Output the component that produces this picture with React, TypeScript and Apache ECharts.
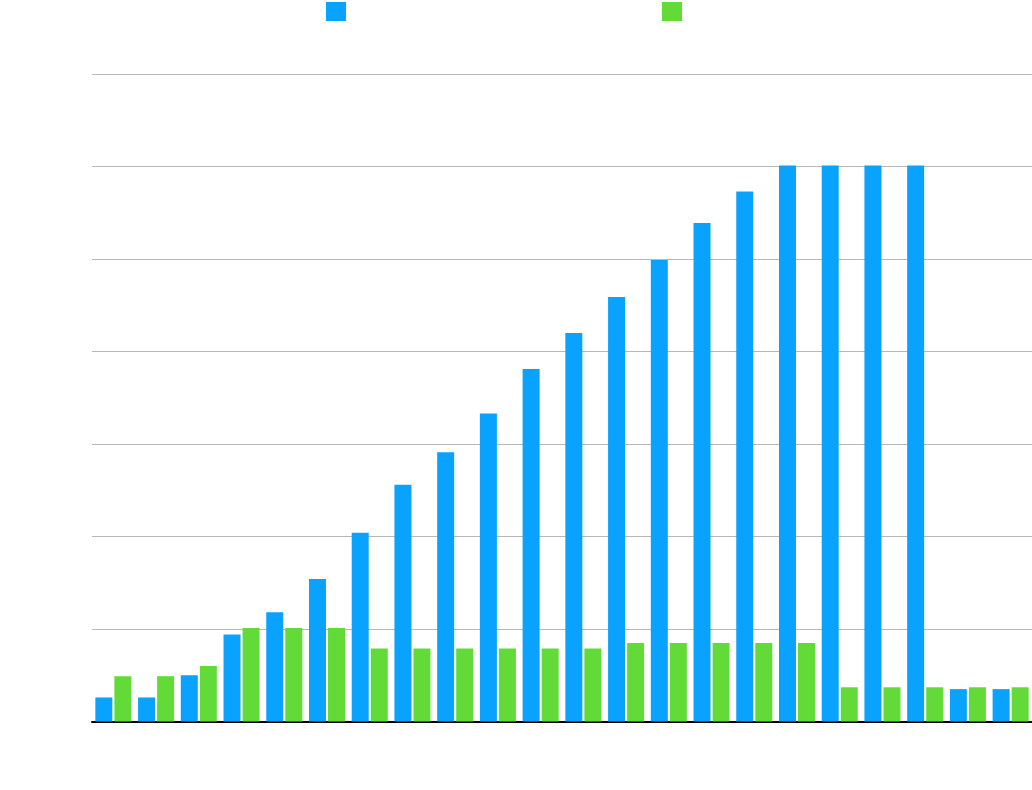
import React, { useEffect, useRef } from "react";
import * as echarts from "echarts";

const categories = [
  "1", "2", "3", "4", "5", "6", "7", "8", "9", "10", "11",
  "12", "13", "14", "15", "16", "17", "18", "19", "20", "21", "22",
];
const seriesNames = ["Series A", "Series B"];
const blueValues = [
  2.6, 2.6, 5.0, 9.4, 11.8, 15.4, 20.4, 25.6, 29.1, 33.3, 38.1,
  42.0, 45.9, 49.9, 53.9, 57.3, 60.1, 60.1, 60.1, 60.1, 3.5, 3.5,
];
const greenValues = [
  4.9, 4.9, 6.0, 10.1, 10.1, 10.1, 7.9, 7.9, 7.9, 7.9, 7.9,
  7.9, 8.5, 8.5, 8.5, 8.5, 8.5, 3.7, 3.7, 3.7, 3.7, 3.7,
];
const yMin = 0;
const yMax = 70;
const yInterval = 10;

export default function App() {
  const ref = useRef<HTMLDivElement>(null);
  useEffect(() => {
    document.body.style.margin = "0";
    if (!ref.current) return;
    const chart = echarts.init(ref.current, undefined, { renderer: "svg" });
    chart.setOption({
      animation: false,
      backgroundColor: "#ffffff",
      legend: [
        {
          data: [seriesNames[0]],
          left: 326,
          top: 2,
          padding: 0,
          itemWidth: 20,
          itemHeight: 19,
          icon: "rect",
          formatter: () => "",
          selectedMode: false,
        },
        {
          data: [seriesNames[1]],
          left: 662,
          top: 2,
          padding: 0,
          itemWidth: 20,
          itemHeight: 19,
          icon: "rect",
          formatter: () => "",
          selectedMode: false,
        },
      ],
      grid: { left: 92, right: 0, top: 74, bottom: 68.5, containLabel: false },
      xAxis: {
        type: "category",
        data: categories,
        axisLine: { show: true, lineStyle: { color: "#000000", width: 2 } },
        axisTick: { show: false },
        axisLabel: { show: false },
      },
      yAxis: {
        type: "value",
        min: yMin,
        max: yMax,
        interval: yInterval,
        axisLine: { show: false },
        axisTick: { show: false },
        axisLabel: { show: false },
        splitLine: { lineStyle: { color: "#b8b8b8", width: 1 } },
      },
      series: [
        {
          name: seriesNames[0],
          type: "bar",
          data: blueValues,
          barWidth: 17,
          barGap: "12%",
          itemStyle: { color: "#0aa2ff" },
        },
        {
          name: seriesNames[1],
          type: "bar",
          data: greenValues,
          barWidth: 17,
          barGap: "12%",
          itemStyle: { color: "#62db38" },
        },
      ],
    });
    return () => chart.dispose();
  }, []);
  return <div ref={ref} style={{ width: 1032, height: 790 }} />;
}
